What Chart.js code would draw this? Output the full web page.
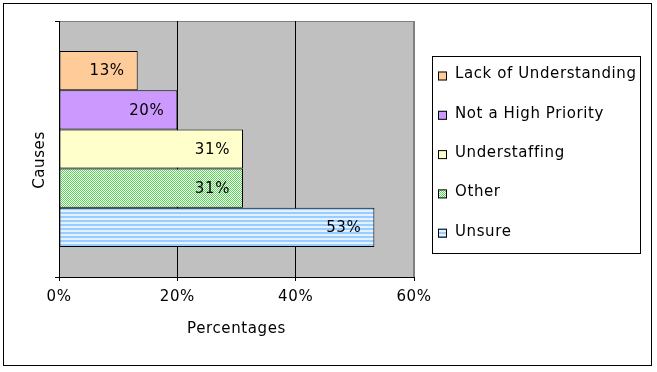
<!DOCTYPE html>
<html>
<head>
<meta charset="utf-8">
<script src="https://cdn.jsdelivr.net/npm/chart.js@4"></script>
<style>
  body { margin: 0; background: #fff; }
  canvas { display: block; }
</style>
</head>
<body>
<canvas id="chart" width="657" height="372"></canvas>
<script>
// data (looks like counts out of 45 respondents)
const causes = ["Lack of Understanding", "Not a High Priority", "Understaffing", "Other", "Unsure"];
const percents = [13.3, 20, 31.1, 31.1, 53.3];
const xTicks = [0, 20, 40, 60];

// small fill patterns like the old Excel ones
function makePattern(rows, colors) {
  const c = document.createElement("canvas");
  c.width = rows[0].length;
  c.height = rows.length;
  const g = c.getContext("2d");
  rows.forEach((row, y) => {
    row.split("").forEach((ch, x) => {
      g.fillStyle = colors[ch];
      g.fillRect(x, y, 1, 1);
    });
  });
  return g.createPattern(c, "repeat");
}

const checker = makePattern(["GW", "WG"], { G: "#55d655", W: "#ffffff" });
const stripes = makePattern(["B", "B", "L", "L"], { B: "#99ccff", L: "#e4f2ff" });
const fills = ["#ffcc99", "#cc99ff", "#ffffcc", checker, stripes];

// gray plot area, outer frame, wider text like Verdana
const backdrop = {
  id: "backdrop",
  beforeDraw(chart) {
    const { ctx, chartArea: a } = chart;
    ctx.save();
    ctx.fillStyle = "#c0c0c0";
    ctx.fillRect(a.left, a.top, a.right - a.left, a.bottom - a.top);
    ctx.strokeStyle = "#808080";
    ctx.lineWidth = 1;
    ctx.strokeRect(a.left + 0.5, a.top + 0.5, a.right - a.left - 1, a.bottom - a.top);
    ctx.strokeStyle = "#000";
    ctx.strokeRect(3.5, 3.5, 648, 362);
    ctx.restore();
    ctx.letterSpacing = "0.6px";
  }
};

// value labels inside the end of each bar + y title
const valueLabels = {
  id: "valueLabels",
  afterDatasetsDraw(chart) {
    const ctx = chart.ctx;
    ctx.save();
    ctx.font = "15px 'DejaVu Sans'";
    ctx.letterSpacing = "0.6px";
    ctx.fillStyle = "#000";
    ctx.textAlign = "right";
    ctx.textBaseline = "middle";
    chart.data.datasets.forEach((ds, i) => {
      const bar = chart.getDatasetMeta(i).data[0];
      ctx.fillText(Math.round(ds.data[0]) + "%", bar.x - 13, bar.y + 1);
    });
    ctx.translate(40, 160);
    ctx.rotate(-Math.PI / 2);
    ctx.textAlign = "center";
    ctx.fillText("Causes", 0, 0);
    ctx.restore();
  }
};

// boxed legend on the right
const boxLegend = {
  id: "boxLegend",
  afterDraw(chart) {
    const ctx = chart.ctx;
    ctx.save();
    ctx.fillStyle = "#fff";
    ctx.fillRect(432, 56, 208, 197);
    ctx.strokeStyle = "#000";
    ctx.lineWidth = 1;
    ctx.strokeRect(432.5, 56.5, 208, 197);
    ctx.font = "15px 'DejaVu Sans'";
    ctx.letterSpacing = "0.6px";
    ctx.textBaseline = "middle";
    chart.data.datasets.forEach((ds, i) => {
      const y = 74.5 + i * 39.3;
      ctx.fillStyle = ds.backgroundColor;
      ctx.fillRect(438, y - 3, 9, 9);
      ctx.strokeRect(438.5, y - 2.5, 8, 8);
      ctx.fillStyle = "#000";
      ctx.fillText(ds.label, 455, y);
    });
    ctx.restore();
  }
};

Chart.defaults.font.family = "'DejaVu Sans'";
Chart.defaults.font.size = 15;
Chart.defaults.color = "#000";

new Chart(document.getElementById("chart"), {
  type: "bar",
  data: {
    labels: [""],
    datasets: causes.map((name, i) => ({
      label: name,
      data: [percents[i]],
      backgroundColor: fills[i],
      borderColor: "#000",
      borderWidth: 1,
      borderSkipped: false,
      barPercentage: 1,
      categoryPercentage: 0.766
    }))
  },
  options: {
    indexAxis: "y",
    responsive: false,
    animation: false,
    layout: { padding: { left: 4, right: 243, top: 21, bottom: 10 } },
    plugins: {
      legend: { display: false },
      tooltip: { enabled: false }
    },
    scales: {
      x: {
        min: xTicks[0],
        max: xTicks[xTicks.length - 1],
        afterBuildTicks: (scale) => { scale.ticks = xTicks.map(v => ({ value: v })); },
        ticks: { callback: (v) => v + "%", padding: 7, color: "#000" },
        grid: { color: (c) => c.tick && c.tick.value === 60 ? "#808080" : "#000", tickColor: "#000", tickLength: 4 },
        border: { color: "#000" },
        title: { display: true, text: "Percentages", color: "#000", padding: { top: 0, bottom: 24 } },
        afterFit: (scale) => { scale.height = 85; }
      },
      y: {
        grid: { drawOnChartArea: false, color: "#000", tickLength: 4 },
        border: { color: "#000" },
        title: { display: false },
        afterFit: (scale) => { scale.width = 55; }
      }
    }
  },
  plugins: [backdrop, valueLabels, boxLegend]
});
</script>
</body>
</html>
